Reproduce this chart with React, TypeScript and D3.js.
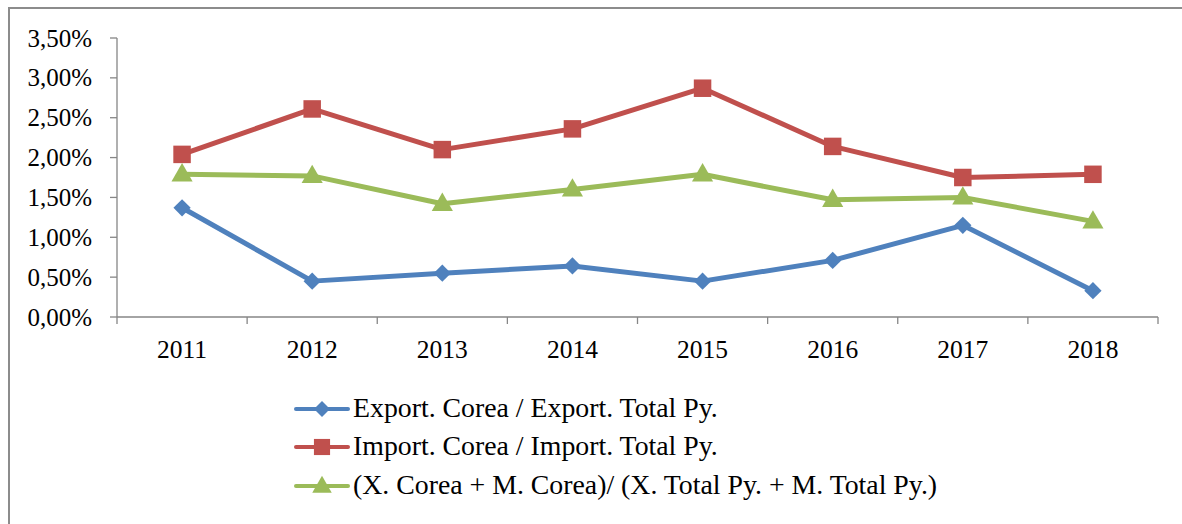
import * as d3 from "d3";

const years = ["2011", "2012", "2013", "2014", "2015", "2016", "2017", "2018"];
const exportShare = [1.37, 0.45, 0.55, 0.64, 0.45, 0.71, 1.15, 0.33];
const importShare = [2.04, 2.61, 2.1, 2.36, 2.87, 2.14, 1.75, 1.79];
const totalShare = [1.79, 1.77, 1.42, 1.6, 1.79, 1.47, 1.5, 1.2];
const yTicks = [0, 0.5, 1, 1.5, 2, 2.5, 3, 3.5];
const seriesNames = [
  "Export. Corea / Export. Total Py.",
  "Import. Corea / Import. Total Py.",
  "(X. Corea + M. Corea)/ (X. Total Py. + M. Total Py.)",
];

const W = 1182;
const H = 524;
const left = 117;
const right = 1158;
const top = 38;
const bottom = 317;
const font = "Liberation Serif";
const axisColor = "#868686";
const colors = ["#4F81BD", "#C0504D", "#9BBB59"];
const shapes = [d3.symbolDiamond2, d3.symbolSquare2, d3.symbolTriangle2];
const sizes = [190, 390, 320];

const x = d3.scaleBand().domain(years).range([left, right]);
const y = d3.scaleLinear().domain([0, 3.5]).range([bottom, top]);
const cx = (yr: string) => (x(yr) as number) + x.bandwidth() / 2;
const fmt = (v: number) => d3.format(".2f")(v).replace(".", ",") + "%";

function Marker({ k, px, py, scale = 1 }: { k: number; px: number; py: number; scale?: number }) {
  const d = d3.symbol().type(shapes[k]).size(sizes[k] * scale)() as string;
  return <path d={d} transform={`translate(${px},${py + (k === 2 ? 1 : 0)})`} fill={colors[k]} />;
}

export default function App() {
  const all = [exportShare, importShare, totalShare];
  const line = d3.line<number>().x((_, i) => cx(years[i])).y((d) => y(d));
  const bounds = years.map((yr) => x(yr) as number).concat([right]);
  const rows = [409, 447, 486];

  return (
    <svg width={W} height={H} style={{ position: "absolute", left: 0, top: 0, display: "block", fontFamily: font }}>
      <rect x={9} y={8} width={W + 20} height={H + 20} fill="#fff" stroke="#8c8c8c" strokeWidth={2} />

      {/* y axis */}
      <line x1={left} x2={left} y1={top} y2={bottom} stroke={axisColor} strokeWidth={1.3} />
      {yTicks.map((t) => (
        <g key={t}>
          <line x1={left - 7} x2={left} y1={y(t)} y2={y(t)} stroke={axisColor} strokeWidth={1.3} />
          <text x={left - 25} y={y(t)} dy="0.34em" textAnchor="end" fontSize={25}>{fmt(t)}</text>
        </g>
      ))}

      {/* x axis */}
      <line x1={left} x2={right} y1={bottom} y2={bottom} stroke={axisColor} strokeWidth={1.3} />
      {bounds.map((b) => (
        <line key={b} x1={b} x2={b} y1={bottom} y2={bottom + 7} stroke={axisColor} strokeWidth={1.3} />
      ))}
      {years.map((yr) => (
        <text key={yr} x={cx(yr)} y={358} textAnchor="middle" fontSize={25.5}>{yr}</text>
      ))}

      {/* series */}
      {all.map((vals, k) => (
        <g key={k}>
          <path d={line(vals) as string} fill="none" stroke={colors[k]} strokeWidth={5} strokeLinejoin="round" />
          {vals.map((v, i) => (
            <Marker key={i} k={k} px={cx(years[i])} py={y(v)} />
          ))}
        </g>
      ))}

      {/* legend */}
      {seriesNames.map((name, k) => (
        <g key={name}>
          <line x1={296} x2={348} y1={rows[k]} y2={rows[k]} stroke={colors[k]} strokeWidth={4} strokeLinecap="round" />
          <Marker k={k} px={322} py={rows[k]} scale={0.85} />
          <text x={353} y={rows[k] + 8} fontSize={27.8}>{name}</text>
        </g>
      ))}
    </svg>
  );
}
